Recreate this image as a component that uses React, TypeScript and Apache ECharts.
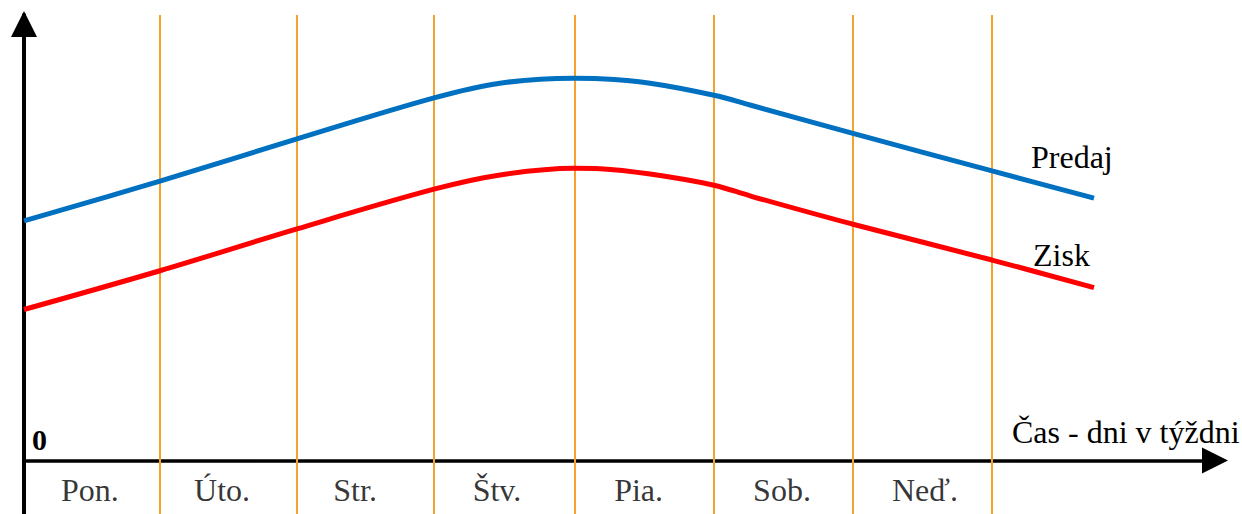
import React, { useEffect, useRef } from "react";
import * as echarts from "echarts";

const dayNames = ["Pon.", "Úto.", "Str.", "Štv.", "Pia.", "Sob.", "Neď."];
const dayBoundaries = [0.983, 1.974, 2.965, 3.977, 4.989, 5.987, 7.0];
const dayLabelPos = [0.477, 1.432, 2.394, 3.42, 4.444, 5.481, 6.515];
const dayLabelY = -6.67;
const curveX = [0, 0.983, 1.974, 2.965, 3.442, 3.977, 4.165, 4.527, 4.989, 5.25, 5.987, 7.0, 7.737];
const predaj = [53.8, 62.7, 72.2, 81.4, 84.7, 85.8, 85.7, 84.7, 82.0, 79.8, 73.5, 65.0, 58.9];
const zisk = [33.9, 42.6, 52.0, 60.9, 64.1, 65.6, 65.5, 64.3, 61.8, 59.4, 53.1, 45.0, 38.8];
const seriesNames = ["Predaj", "Zisk"];
const axisTitle = "Čas - dni v týždni";
const originLabel = "0";

const FONT = "Liberation Serif";

const txt = (x: number, y: number, text: string, size: number, weight: string = "normal") => ({
  type: "text",
  style: {
    x,
    y,
    text,
    fontFamily: FONT,
    fontSize: size,
    fontWeight: weight,
    fill: "#000",
    align: "left",
    verticalAlign: "middle",
  },
});

export default function App() {
  const ref = useRef<HTMLDivElement>(null);
  useEffect(() => {
    if (!ref.current) return;
    const chart = echarts.init(ref.current, null, { renderer: "svg" });
    chart.setOption({
      animation: false,
      backgroundColor: "#ffffff",
      grid: { left: 24, right: 27, top: 15, bottom: 0, containLabel: false },
      xAxis: {
        type: "value",
        min: 0,
        max: 8.612,
        axisLine: {
          show: true,
          onZero: true,
          lineStyle: { color: "#000", width: 3.5 },
          symbol: ["none", "triangle"],
          symbolSize: [26, 26],
          symbolOffset: [0, 0],
        },
        axisTick: { show: false },
        axisLabel: { show: false },
        splitLine: { show: false },
      },
      yAxis: {
        type: "value",
        min: -12,
        max: 100,
        axisLine: {
          show: true,
          onZero: false,
          lineStyle: { color: "#000", width: 4 },
          symbol: ["none", "triangle"],
          symbolSize: [26, 26],
          symbolOffset: [0, -9],
        },
        axisTick: { show: false },
        axisLabel: { show: false },
        splitLine: { show: false },
      },
      series: [
        {
          type: "line",
          data: [],
          silent: true,
          z: 1,
          markLine: {
            silent: true,
            symbol: ["none", "none"],
            label: { show: false },
            lineStyle: { color: "#F4A22D", width: 2, type: "solid" },
            data: dayBoundaries.map((b) => ({ xAxis: b })),
          },
        },
        {
          name: seriesNames[0],
          type: "line",
          data: curveX.map((x, i) => [x, predaj[i]]),
          smooth: 0.35,
          showSymbol: false,
          lineStyle: { color: "#0070C0", width: 5 },
          z: 5,
        },
        {
          name: seriesNames[1],
          type: "line",
          data: curveX.map((x, i) => [x, zisk[i]]),
          smooth: 0.35,
          showSymbol: false,
          lineStyle: { color: "#FF0000", width: 5 },
          z: 5,
        },
        {
          type: "scatter",
          symbolSize: 0,
          silent: true,
          data: dayNames.map((n, i) => ({ name: n, value: [dayLabelPos[i], dayLabelY] })),
          label: {
            show: true,
            position: "inside",
            formatter: (p: any) => p.name,
            fontFamily: FONT,
            fontSize: 32,
            color: "#000",
            align: "center",
            verticalAlign: "middle",
          },
        },
      ],
      graphic: [
        txt(1031, 157.2, seriesNames[0], 32),
        txt(1033, 254.9, seriesNames[1], 32),
        txt(1012, 432.2, axisTitle, 32),
        txt(32, 439.5, originLabel, 30, "bold"),
      ],
    });
    return () => chart.dispose();
  }, []);
  return (
    <div
      ref={ref}
      style={{ position: "fixed", left: 0, top: 0, width: 1242, height: 514 }}
    />
  );
}
